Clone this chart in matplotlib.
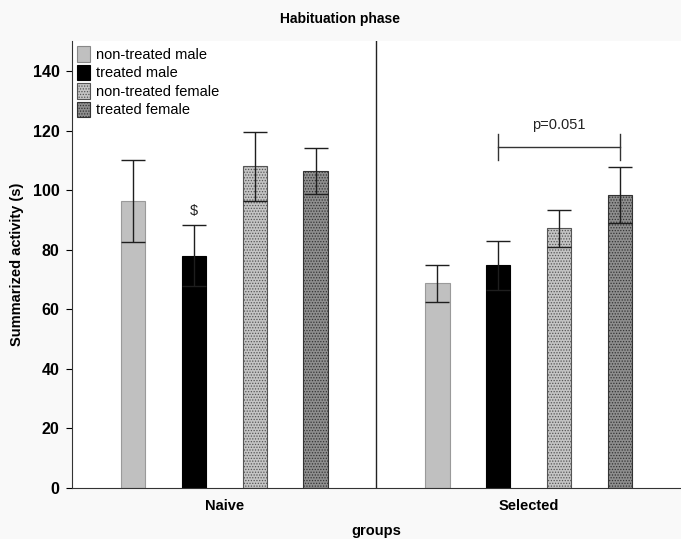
import numpy as np
import matplotlib.pyplot as plt
from matplotlib.patches import Patch

plt.rcParams['font.family'] = ['Liberation Sans', 'DejaVu Sans']
plt.rcParams['hatch.linewidth'] = 0.6

groups = ['Naive', 'Selected']
series = ['non-treated male', 'treated male', 'non-treated female', 'treated female']
means = {
    'non-treated male': [96.4, 68.7],
    'treated male': [78.0, 74.7],
    'non-treated female': [108.0, 87.2],
    'treated female': [106.4, 98.4],
}
errors = {
    'non-treated male': [13.8, 6.2],
    'treated male': [10.3, 8.3],
    'non-treated female': [11.6, 6.2],
    'treated female': [7.7, 9.3],
}

# face, edge, hatch
styles = {
    'non-treated male': ('#c0c0c0', '#9a9a9a', None),
    'treated male': ('#000000', '#000000', None),
    'non-treated female': ('#c4c4c4', '#555555', '......'),
    'treated female': ('#8e8e8e', '#333333', '......'),
}

fig = plt.figure(figsize=(6.81, 5.39), dpi=100, facecolor='#f9f9f9')
ax = fig.add_axes([0.1057, 0.0946, 0.8943, 0.829])
ax.set_facecolor('white')

x = np.arange(len(groups))
offsets = [-0.3, -0.1, 0.1, 0.3]
width = 0.08

handles = []
for name, off in zip(series, offsets):
    face, edge, hatch = styles[name]
    ax.bar(x + off, means[name], width, color=face, edgecolor=edge,
           hatch=hatch, linewidth=0.8, zorder=2)
    ax.errorbar(x + off, means[name], yerr=errors[name], fmt='none',
                ecolor='#1e1e1e', elinewidth=1, capsize=8.8, capthick=1, zorder=3)
    handles.append(Patch(facecolor=face, edgecolor=edge if name != 'non-treated male' else '#888888',
                         hatch=hatch, linewidth=0.8, label=name))

# group divider
ax.axvline(0.5, color='#222222', linewidth=1)

# significance markers
ax.text(x[0] - 0.1, 93, '$', ha='center', va='center', fontsize=10.5, color='#222222')
bx = [x[1] - 0.1, x[1] + 0.3]
ax.plot(bx, [114.5, 114.5], color='#333333', linewidth=1)
ax.plot([bx[0], bx[0]], [110, 119], color='#333333', linewidth=1)
ax.plot([bx[1], bx[1]], [110, 119], color='#333333', linewidth=1)
ax.text(sum(bx) / 2, 119.5, 'p=0.051', ha='center', va='bottom', fontsize=10.5, color='#222222')

ax.set_xlim(-0.5, 1.5)
ax.set_ylim(0, 150)
ax.set_yticks(range(0, 141, 20))
ax.set_xticks(x)
ax.set_xticklabels(groups, fontweight='bold', fontsize=10.5)
ax.tick_params(axis='x', length=0, pad=8)
ax.tick_params(axis='y', length=4, direction='out', labelsize=11.5, pad=5)
for lab in ax.get_yticklabels():
    lab.set_fontweight('bold')

ax.spines['top'].set_visible(False)
ax.spines['right'].set_visible(False)
ax.spines['left'].set_color('#333333')
ax.spines['bottom'].set_color('#333333')

ax.set_ylabel('Summarized activity (s)', fontweight='bold', fontsize=10.5, labelpad=6)
ax.set_xlabel('groups', fontweight='bold', fontsize=10.5, labelpad=8)
fig.text(0.5, 0.965, 'Habituation phase', ha='center', va='center',
         fontweight='bold', fontsize=10)

ax.legend(handles=handles, loc='upper left', frameon=False, fontsize=10.5,
          handlelength=0.9, handleheight=1.25, handletextpad=0.4,
          labelspacing=0.2, borderaxespad=0.1, borderpad=0.25)

fig.savefig('out.png', dpi=100, facecolor=fig.get_facecolor())
